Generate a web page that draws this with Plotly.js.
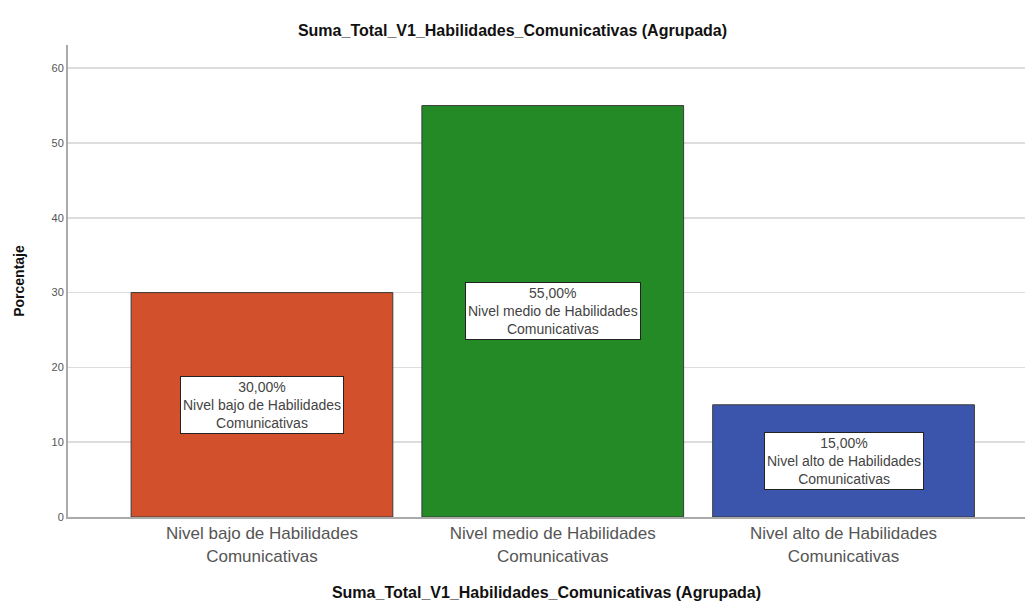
<!DOCTYPE html>
<html>
<head>
<meta charset="utf-8">
<script src="https://cdn.plot.ly/plotly-3.0.1.min.js"></script>
<style>html,body{margin:0;padding:0;background:#fff;}#chart{width:1025px;height:606px;}</style>
</head>
<body>
<div id="chart"></div>
<script>
const categories = ["Nivel bajo de Habilidades Comunicativas", "Nivel medio de Habilidades Comunicativas", "Nivel alto de Habilidades Comunicativas"];
const tickLabels = ["Nivel bajo de Habilidades<br>Comunicativas", "Nivel medio de Habilidades<br>Comunicativas", "Nivel alto de Habilidades<br>Comunicativas"];
const labelNames = ["Nivel bajo de Habilidades<br>Comunicativas", "Nivel medio de Habilidades<br>Comunicativas", "Nivel alto de Habilidades<br>Comunicativas"];
const percentages = [30, 55, 15];
const barColors = ["#D3502C", "#248A26", "#3B55AC"];
const yTicks = [0, 10, 20, 30, 40, 50, 60];

const xIdx = categories.map((c, i) => i);
const FONT = 'Arial, Liberation Sans, sans-serif';

const trace = {
  type: 'bar',
  x: xIdx,
  y: percentages,
  width: 0.9,
  marker: {color: barColors, line: {color: '#3a3a3a', width: 1}},
  hoverinfo: 'skip'
};

const annotations = percentages.map((v, i) => ({
  x: i, y: v / 2, xref: 'x', yref: 'y',
  text: v.toFixed(2).replace('.', ',') + '%<br>' + labelNames[i],
  showarrow: false,
  bgcolor: '#ffffff',
  bordercolor: '#222222',
  borderwidth: 1,
  borderpad: 2,
  font: {family: FONT, size: 14, color: '#444444'},
  align: 'center'
}));

const layout = {
  width: 1025, height: 606,
  margin: {l: 68, r: 0, t: 45, b: 89},
  paper_bgcolor: '#ffffff', plot_bgcolor: '#ffffff',
  showlegend: false,
  title: {text: '<b>Suma_Total_V1_Habilidades_Comunicativas (Agrupada)</b>',
    font: {family: FONT, size: 16, color: '#111111'},
    x: 0.5, xanchor: 'center', y: 0.95, yanchor: 'middle', yref: 'container'},
  xaxis: {
    tickmode: 'array', tickvals: xIdx, ticktext: tickLabels,
    range: [-0.667, 2.624],
    showgrid: false, zeroline: false,
    showline: true, linecolor: '#aaaaaa', linewidth: 2,
    ticks: '',
    tickfont: {family: FONT, size: 17, color: '#555555'},
    title: {text: '<b>Suma_Total_V1_Habilidades_Comunicativas (Agrupada)</b>',
      font: {family: FONT, size: 16, color: '#111111'}, standoff: 22}
  },
  yaxis: {
    range: [0, 63.1],
    tickmode: 'array', tickvals: yTicks,
    showgrid: true, gridcolor: '#dddddd', gridwidth: 1.5,
    zeroline: false,
    showline: true, linecolor: '#aaaaaa', linewidth: 2,
    ticks: '', ticklen: 4,
    tickfont: {family: FONT, size: 11, color: '#555555'},
    title: {text: '<b>Porcentaje</b>',
      font: {family: FONT, size: 14, color: '#111111'}, standoff: 24}
  },
  annotations: annotations
};

Plotly.newPlot('chart', [trace], layout, {displayModeBar: false, staticPlot: true});
</script>
</body>
</html>
